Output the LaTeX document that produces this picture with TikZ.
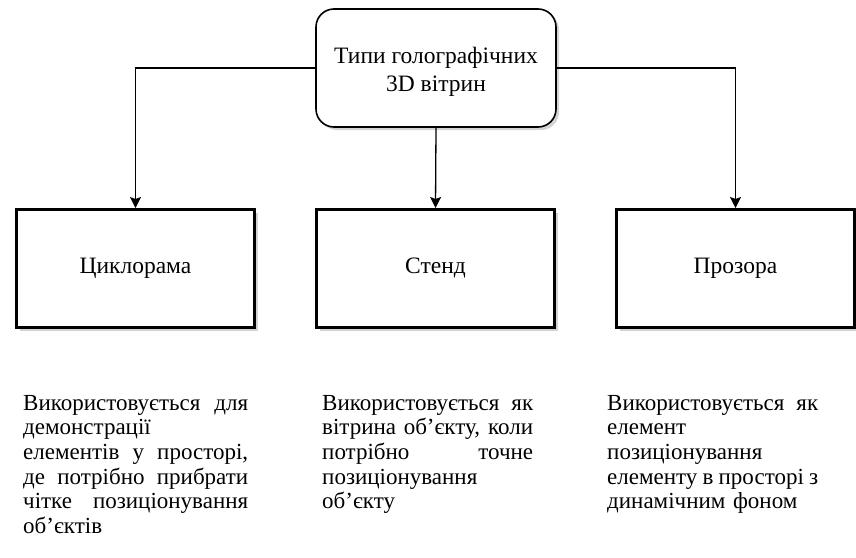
\documentclass[tikz,border=0pt]{standalone}
\usepackage{fontspec}
\setmainfont{Liberation Serif}[Script=Cyrillic]
\usetikzlibrary{arrows.meta,shadows}
\newcommand\jline[2]{\makebox[#1][s]{\spaceskip=0pt\xspaceskip=0pt\relax #2}}
\begin{document}
\begin{tikzpicture}[x=1pt,y=-1pt,
  every node/.style={font=\fontsize{23.5}{24.6}\selectfont},
  rootbox/.style={draw,line width=1.6pt,rounded corners=18pt,fill=white,
    minimum width=240pt,minimum height=118pt,inner sep=0pt,
    drop shadow={shadow xshift=3pt,shadow yshift=-3pt,opacity=0.35,fill=gray}},
  roottext/.style={align=center,inner sep=0pt,font=\fontsize{23.5}{28}\selectfont},
  typebox/.style={draw,line width=3pt,fill=white,
    minimum width=238pt,minimum height=118pt,inner sep=0pt,
    text height=15.5pt,text depth=5pt,
    drop shadow={shadow xshift=3pt,shadow yshift=-3pt,opacity=0.35,fill=gray}},
  descr/.style={anchor=north west,inner sep=0pt,align=left,
    font=\fontsize{23}{24.6}\selectfont},
  conn/.style={line width=1.3pt,-{Stealth[length=11pt,width=11pt,inset=2pt]}}
]
\useasboundingbox (0,0) rectangle (856,557);
\node[rootbox] (root) at (436,68) {};
\node[roottext] (roottxt) at (436,72) {Типи голографічних\\3D вітрин};
\node[typebox] (b1) at (135.5,268.5) {Циклорама};
\node[typebox] (b2) at (435.5,268.5) {Стенд};
\node[typebox] (b3) at (735.5,268.5) {Прозора};
\draw[conn] (root.west) -| (b1.north);
\draw[conn] (root.south) -- (b2.north);
\draw[conn] (root.east) -| (b3.north);
\node[descr,text width=225pt] (d1) at (23,395) {%
\jline{225pt}{Використовується для}\\
демонстрації\\
\jline{225pt}{елементів у просторі,}\\
\jline{225pt}{де потрібно прибрати}\\
\jline{225pt}{чітке позиціонування}\\
об’єктів};
\node[descr,text width=211pt] (d2) at (322,395) {%
\jline{211pt}{Використовується як}\\
\jline{211pt}{вітрина об’єкту, коли}\\
\jline{211pt}{потрібно точне}\\
позиціонування\\
об’єкту};
\node[descr,text width=211pt] (d3) at (607,395) {%
\jline{211pt}{Використовується як}\\
елемент\\
позиціонування\\
\jline{211pt}{елементу в просторі з}\\
динамічним фоном};
\end{tikzpicture}
\end{document}
